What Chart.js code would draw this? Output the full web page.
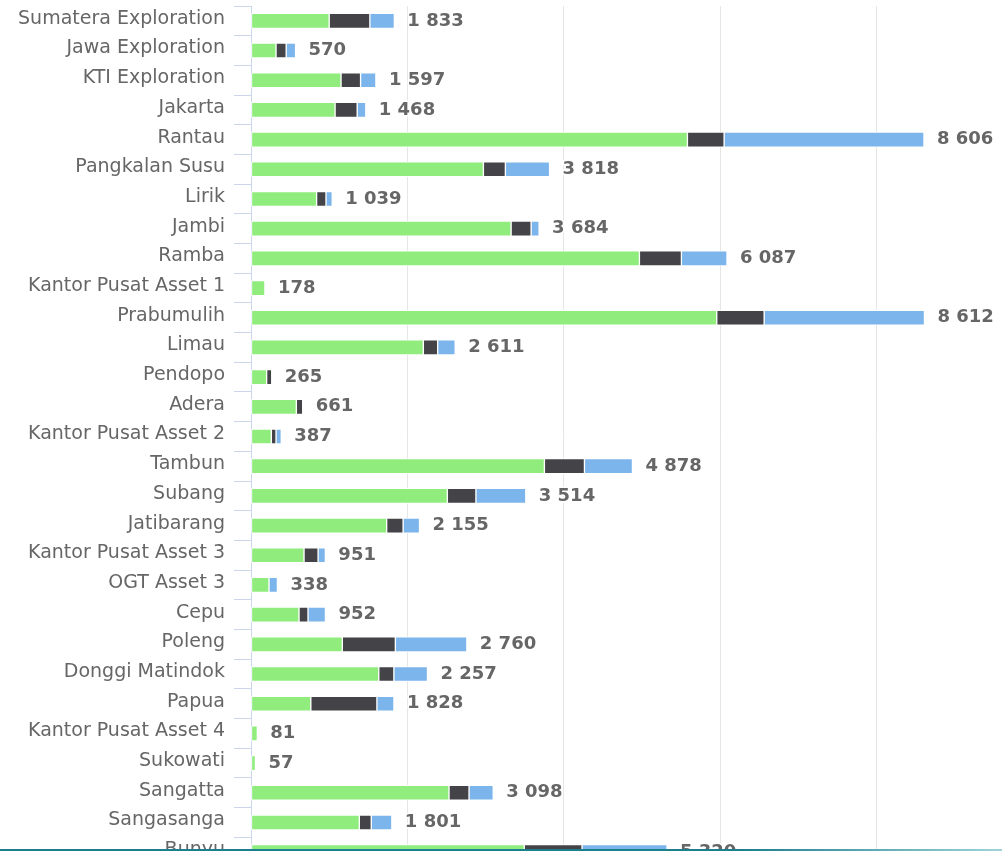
<!DOCTYPE html>
<html>
<head>
<meta charset="utf-8">
<script src="https://cdn.jsdelivr.net/npm/chart.js@4.4.1/dist/chart.umd.min.js"></script>
<style>
  html, body { margin: 0; padding: 0; background: #fff; overflow: hidden; }
  #wrap { position: absolute; left: 0; top: 0; width: 1033px; height: 867px; }
  #bottomLine { position: absolute; left: 0; top: 849px; width: 1002px; height: 2px;
    background: linear-gradient(to right, #1b7f8c 0%, #1b7f8c 74%, #9fd3d9 100%); }
</style>
</head>
<body>
<div id="wrap"><canvas id="chart" width="1033" height="867"></canvas></div>
<div id="bottomLine"></div>
<script>
const categories = [
  "Sumatera Exploration", "Jawa Exploration", "KTI Exploration", "Jakarta", "Rantau",
  "Pangkalan Susu", "Lirik", "Jambi", "Ramba", "Kantor Pusat Asset 1", "Prabumulih",
  "Limau", "Pendopo", "Adera", "Kantor Pusat Asset 2", "Tambun", "Subang", "Jatibarang",
  "Kantor Pusat Asset 3", "OGT Asset 3", "Cepu", "Poleng", "Donggi Matindok", "Papua",
  "Kantor Pusat Asset 4", "Sukowati", "Sangatta", "Sangasanga", "Bunyu"
];

// three stacked parts per unit
const green = [1000, 320, 1151, 1075, 5581, 2972, 839, 3326, 4967, 178, 5956, 2204, 200, 580, 260,
  3752, 2511, 1735, 678, 230, 614, 1168, 1634, 765, 81, 57, 2532, 1385, 3494];
const dark = [520, 130, 250, 283, 469, 281, 120, 256, 537, 0, 606, 183, 65, 81, 60,
  512, 365, 210, 180, 0, 115, 678, 193, 845, 0, 0, 256, 153, 739];
const blue = [313, 120, 196, 110, 2556, 565, 80, 102, 583, 0, 2050, 224, 0, 0, 67,
  614, 638, 210, 93, 108, 223, 914, 430, 218, 0, 0, 310, 263, 1087];

const xTickStep = 2000;
const xMax = 10000;

function fmt(v) {
  return String(v).replace(/\B(?=(\d{3})+(?!\d))/g, " ");
}

// stack totals at the end of each bar
const totalLabels = {
  id: "totalLabels",
  afterDatasetsDraw(chart) {
    const ctx = chart.ctx;
    const xs = chart.scales.x;
    const ys = chart.scales.y;
    ctx.save();
    ctx.font = "bold 18px 'DejaVu Sans'";
    ctx.textAlign = "left";
    ctx.textBaseline = "middle";
    ctx.lineJoin = "round";
    categories.forEach((c, i) => {
      const total = green[i] + dark[i] + blue[i];
      const px = xs.getPixelForValue(total) + 13;
      const py = ys.getPixelForValue(i);
      const txt = fmt(total);
      ctx.strokeStyle = "#ffffff";
      ctx.lineWidth = 3;
      ctx.strokeText(txt, px, py);
      ctx.fillStyle = "#666666";
      ctx.fillText(txt, px, py);
    });
    ctx.restore();
  }
};

const barStyle = { barThickness: 15, borderWidth: 1, borderColor: "#ffffff", borderSkipped: false };

const ctx = document.getElementById("chart").getContext("2d");
new Chart(ctx, {
  type: "bar",
  data: {
    labels: categories,
    datasets: [
      Object.assign({ label: "green", data: green, backgroundColor: "#90ed7d" }, barStyle),
      Object.assign({ label: "dark", data: dark, backgroundColor: "#434348" }, barStyle),
      Object.assign({ label: "blue", data: blue, backgroundColor: "#7cb5ec" }, barStyle)
    ]
  },
  options: {
    indexAxis: "y",
    responsive: false,
    animation: false,
    layout: { padding: { top: 6, left: 0, right: 0, bottom: 0 } },
    plugins: {
      legend: { display: false },
      tooltip: { enabled: false }
    },
    scales: {
      x: {
        stacked: true,
        min: 0,
        max: xMax,
        ticks: { display: false, stepSize: xTickStep },
        grid: {
          drawTicks: false,
          color: (c) => (c.tick && c.tick.value === 0 ? "rgba(0,0,0,0)" : "#e6e6e6")
        },
        border: { display: false },
        afterFit(scale) {
          scale.height = 0;
          scale.paddingLeft = 0;
          scale.paddingRight = 0;
        }
      },
      y: {
        stacked: true,
        grid: {
          drawOnChartArea: false,
          drawTicks: true,
          tickLength: 17,
          color: "#ccd6eb",
          offset: true
        },
        border: { display: true, color: "#ccd6eb" },
        ticks: {
          autoSkip: false,
          padding: 9,
          labelOffset: -2,
          color: "#666666",
          font: { family: "DejaVu Sans", size: 19 }
        },
        afterFit(scale) {
          scale.width = 251;
          scale.paddingTop = 0;
          scale.paddingBottom = 0;
        }
      }
    }
  },
  plugins: [totalLabels]
});
</script>
</body>
</html>
